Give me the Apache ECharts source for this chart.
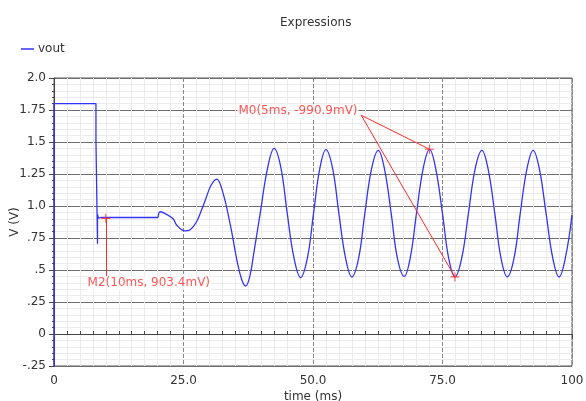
<!DOCTYPE html>
<html>
<head>
<meta charset="utf-8">
<script src="https://cdn.jsdelivr.net/npm/echarts@6/dist/echarts.min.js"></script>
<style>
  html, body { margin: 0; padding: 0; background: #fff; }
  #chart { width: 586px; height: 401px; }
</style>
</head>
<body>
<div id="chart"></div>
<script>
// tick labels
const xTickLabels = { 0: '0', 25: '25.0', 50: '50.0', 75: '75.0', 100: '100' }
const yTickLabels = { '-0.25': '-.25', '0': '0', '0.25': '.25', '0.5': '.5', '0.75': '.75',
  '1': '1.0', '1.25': '1.25', '1.5': '1.5', '1.75': '1.75', '2': '2.0' }

// vout: step part (not smoothed), [time ms, V]
const voutStep = [
  [0, -0.3], [0, 1.8], [8.1, 1.8], [8.1, 1.51], [8.4, 1.51], [8.4, 0.705],
  [8.4, 0.935], [8.6, 0.935], [8.6, 0.905], [9.0, 0.91], [20.1, 0.91]
]
// vout: oscillation part
const voutWave = [
  [20.1, 0.91], [20.5, 0.955], [21.7, 0.935], [23.0, 0.90], [23.7, 0.85], [25.3, 0.805],
  [26.3, 0.815], [27.5, 0.875], [28.5, 0.97], [29.2, 1.045], [30.3, 1.16], [31.4, 1.21],
  [32.5, 1.12], [34.0, 0.86], [35.3, 0.58], [36.2, 0.43], [37.0, 0.375], [37.8, 0.45],
  [38.6, 0.64], [39.8, 0.94], [41.2, 1.29], [42.5, 1.45], [43.8, 1.30], [45.0, 0.95],
  [46.3, 0.60], [47.6, 0.44], [48.9, 0.59], [50.1, 0.94], [51.3, 1.29], [52.5, 1.44],
  [53.8, 1.29], [55.0, 0.94], [56.3, 0.59], [57.5, 0.445], [58.8, 0.59], [60.0, 0.94],
  [61.3, 1.29], [62.6, 1.435], [63.8, 1.29], [65.1, 0.94], [66.3, 0.59], [67.6, 0.45],
  [68.8, 0.60], [70.0, 0.95], [71.3, 1.30], [72.5, 1.443], [73.7, 1.29], [75.0, 0.94],
  [76.2, 0.59], [77.4, 0.446], [78.7, 0.59], [80.0, 0.94], [81.3, 1.29], [82.6, 1.435],
  [83.8, 1.29], [85.1, 0.94], [86.3, 0.59], [87.5, 0.446], [88.8, 0.59], [90.0, 0.94],
  [91.3, 1.29], [92.5, 1.435], [93.7, 1.29], [95.0, 0.94], [96.3, 0.59], [97.5, 0.446],
  [98.7, 0.59], [100, 0.93]
]

// markers and annotations
const markerPoints = [[10, 0.9034], [72.5, 1.443], [77.4, 0.446]]
const m0Text = 'M0(5ms, -990.9mV)'
const m0LabelAt = [47.1, 1.742]
const m0LineFrom = [59.3, 1.709]
const m2Text = 'M2(10ms, 903.4mV)'
const m2LabelAt = [18.3, 0.396]
const m2LineTo = [10, 0.451]

const FONT = 'DejaVu Sans'
const BLUE = '#3434f4'
const RED = '#ff2a2a'

const chart = echarts.init(document.getElementById('chart'))

chart.setOption({
  animation: false,
  title: {
    text: 'Expressions',
    left: 275,
    top: 12,
    textStyle: { fontFamily: FONT, fontSize: 12, fontWeight: 'normal', color: '#333' }
  },
  legend: {
    left: 18,
    top: 40,
    icon: 'rect',
    itemWidth: 13,
    itemHeight: 1.5,
    itemGap: 4,
    padding: 3,
    data: ['vout'],
    textStyle: { fontFamily: FONT, fontSize: 12, color: '#333', padding: [0, 0, 0, -1] }
  },
  grid: {
    left: 54,
    right: 14,
    top: 78,
    bottom: 35,
    outerBoundsMode: 'none',
    containLabel: false,
    show: true,
    borderColor: '#555',
    borderWidth: 1
  },
  xAxis: {
    type: 'value',
    min: 0,
    max: 100,
    interval: 25,
    name: 'time (ms)',
    nameLocation: 'middle',
    nameGap: 25,
    nameMoveOverlap: false,
    nameTextStyle: { fontFamily: FONT, fontSize: 12, color: '#333' },
    axisLine: { lineStyle: { color: '#444' } },
    axisTick: { show: true, length: 5, lineStyle: { color: '#444' } },
    minorTick: { show: true, splitNumber: 10, length: -3, lineStyle: { color: '#444' } },
    axisLabel: {
      fontFamily: FONT, fontSize: 12, color: '#333', margin: 9,
      formatter: function (v) { return xTickLabels[v] }
    },
    splitLine: { show: true, lineStyle: { color: '#888', type: [4, 2] } },
    minorSplitLine: { show: true, lineStyle: { color: '#ebebeb' } }
  },
  yAxis: {
    type: 'value',
    min: -0.25,
    max: 2.0,
    interval: 0.25,
    name: 'V (V)',
    nameLocation: 'middle',
    nameGap: 33,
    nameMoveOverlap: false,
    nameTextStyle: { fontFamily: FONT, fontSize: 12, color: '#333' },
    axisLine: { show: true, lineStyle: { color: '#444' } },
    axisTick: { show: true, length: 5, lineStyle: { color: '#444' } },
    minorTick: { show: true, splitNumber: 5, length: 2, lineStyle: { color: '#444' } },
    axisLabel: {
      fontFamily: FONT, fontSize: 12, color: '#333', margin: 8,
      formatter: function (v) { return yTickLabels[String(Math.round(v * 100) / 100)] }
    },
    splitLine: { show: true, lineStyle: { color: '#6e6e6e' } },
    minorSplitLine: { show: true, lineStyle: { color: '#ebebeb' } }
  },
  series: [
    {
      name: 'vout',
      type: 'line',
      data: voutStep,
      showSymbol: false,
      clip: true,
      color: BLUE,
      lineStyle: { color: BLUE, width: 1.3 },
      z: 3
    },
    {
      name: 'vout',
      type: 'line',
      data: voutWave,
      smooth: 0.4,
      showSymbol: false,
      clip: true,
      color: BLUE,
      lineStyle: { color: BLUE, width: 1.3 },
      z: 3
    },
    {
      name: 'markers',
      type: 'scatter',
      data: markerPoints,
      symbol: 'path://M4.4,0H5.6V10H4.4ZM0,4.4H10V5.6H0Z',
      symbolSize: 9,
      itemStyle: { color: RED },
      z: 5,
      markLine: {
        silent: true,
        symbol: 'none',
        label: { show: false },
        lineStyle: { color: RED, width: 1, type: 'solid' },
        data: [
          [{ coord: m0LineFrom }, { coord: markerPoints[1] }],
          [{ coord: m0LineFrom }, { coord: markerPoints[2] }],
          [{ coord: markerPoints[0] }, { coord: m2LineTo }]
        ]
      }
    },
    {
      name: 'labels',
      type: 'scatter',
      symbolSize: 0,
      z: 6,
      data: [
        { value: m0LabelAt, text: m0Text },
        { value: m2LabelAt, text: m2Text }
      ],
      label: {
        show: true,
        position: 'inside',
        formatter: function (p) { return p.data.text },
        fontFamily: FONT,
        fontSize: 12,
        color: RED,
        backgroundColor: '#fff',
        padding: [1, 1]
      }
    }
  ]
})
</script>
</body>
</html>
